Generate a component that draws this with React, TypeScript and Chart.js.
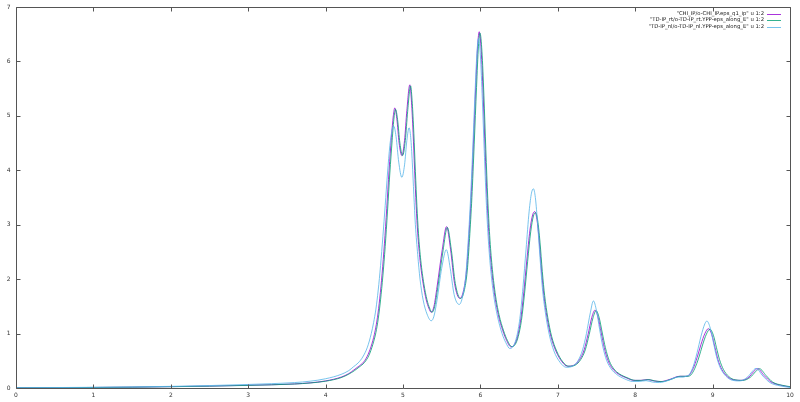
import React, { useEffect, useRef } from "react";
import { Chart, registerables } from "chart.js";

Chart.register(...registerables);

const X_TICKS = [0, 1, 2, 3, 4, 5, 6, 7, 8, 9, 10];
const Y_TICKS = [0, 1, 2, 3, 4, 5, 6, 7];

const LABELS = [
  '"CHI_IP/o-CHI_IP.eps_q1_ip" u 1:2',
  '"TD-IP_rt/o-TD-IP_rt.YPP-eps_along_E" u 1:2',
  '"TD-IP_nl/o-TD-IP_nl.YPP-eps_along_E" u 1:2',
];
const COLORS = ["#9400d3", "#009e73", "#56b4e9"];

const CHI: [number, number][] = [
  [0, 0.003], [0.5, 0.006], [1, 0.01], [1.5, 0.015], [2, 0.025], [2.5, 0.035], [3, 0.05], [3.3, 0.06],
  [3.6, 0.075], [3.8, 0.095], [4.0, 0.13], [4.2, 0.2], [4.3, 0.265], [4.364, 0.33], [4.42, 0.39],
  [4.493, 0.48], [4.55, 0.62], [4.6, 0.82], [4.64, 1.05], [4.67, 1.3], [4.7, 1.65], [4.73, 2.1],
  [4.76, 2.65], [4.79, 3.3], [4.82, 4.0], [4.85, 4.6], [4.875, 5.0], [4.894, 5.145], [4.92, 4.95],
  [4.95, 4.5], [4.985, 4.27], [5.02, 4.55], [5.05, 5.1], [5.088, 5.57], [5.11, 5.25], [5.13, 4.7],
  [5.15, 4.0], [5.17, 3.35], [5.19, 2.85], [5.22, 2.35], [5.26, 1.92], [5.3, 1.62], [5.333, 1.47],
  [5.365, 1.39], [5.4, 1.5], [5.44, 1.86], [5.507, 2.54], [5.563, 2.965], [5.615, 2.54], [5.666, 1.92],
  [5.735, 1.645], [5.78, 1.78], [5.82, 2.15], [5.85, 2.75], [5.88, 3.5], [5.91, 4.5], [5.94, 5.55],
  [5.965, 6.3], [5.985, 6.545], [6.01, 6.2], [6.035, 5.4], [6.06, 4.4], [6.085, 3.5], [6.11, 2.8],
  [6.14, 2.25], [6.18, 1.75], [6.23, 1.35], [6.29, 1.05], [6.34, 0.87], [6.395, 0.755], [6.44, 0.8],
  [6.48, 0.95], [6.52, 1.25], [6.56, 1.75], [6.6, 2.35], [6.64, 2.9], [6.675, 3.18], [6.703, 3.24],
  [6.73, 3.1], [6.76, 2.7], [6.79, 2.15], [6.82, 1.7], [6.86, 1.3], [6.91, 0.95], [6.975, 0.68],
  [7.055, 0.48], [7.127, 0.4], [7.21, 0.42], [7.28, 0.52], [7.34, 0.7], [7.39, 0.98], [7.44, 1.3],
  [7.48, 1.43], [7.52, 1.3], [7.56, 1.02], [7.6, 0.74], [7.65, 0.5], [7.71, 0.35], [7.78, 0.26],
  [7.88, 0.19], [7.985, 0.14], [8.07, 0.14], [8.16, 0.155], [8.24, 0.13], [8.33, 0.118], [8.45, 0.16],
  [8.57, 0.215], [8.65, 0.215], [8.7, 0.24], [8.75, 0.36], [8.8, 0.56], [8.85, 0.8], [8.9, 1.0],
  [8.945, 1.09], [8.99, 0.98], [9.03, 0.75], [9.07, 0.52], [9.12, 0.34], [9.19, 0.21], [9.27, 0.15],
  [9.366, 0.14], [9.47, 0.2], [9.53, 0.3], [9.58, 0.357], [9.665, 0.23], [9.755, 0.11], [9.88, 0.05],
  [10.0, 0.02],
];

const RT: [number, number][] = [
  [0, 0.003], [0.5, 0.006], [1, 0.01], [1.5, 0.015], [2, 0.024], [2.5, 0.034], [3, 0.048], [3.3, 0.058],
  [3.6, 0.073], [3.8, 0.092], [4.0, 0.125], [4.2, 0.19], [4.3, 0.255], [4.374, 0.32], [4.43, 0.38],
  [4.503, 0.47], [4.56, 0.6], [4.61, 0.8], [4.65, 1.02], [4.68, 1.27], [4.71, 1.62], [4.74, 2.06],
  [4.77, 2.6], [4.8, 3.25], [4.83, 3.95], [4.86, 4.55], [4.885, 4.98], [4.904, 5.12], [4.93, 4.93],
  [4.96, 4.5], [4.995, 4.27], [5.03, 4.55], [5.06, 5.08], [5.098, 5.55], [5.12, 5.23], [5.14, 4.68],
  [5.16, 3.98], [5.18, 3.34], [5.2, 2.84], [5.23, 2.34], [5.27, 1.91], [5.31, 1.62], [5.343, 1.47],
  [5.375, 1.39], [5.41, 1.5], [5.45, 1.85], [5.517, 2.52], [5.573, 2.95], [5.625, 2.53], [5.676, 1.92],
  [5.745, 1.645], [5.79, 1.78], [5.83, 2.15], [5.86, 2.75], [5.89, 3.5], [5.92, 4.48], [5.95, 5.52],
  [5.975, 6.28], [5.995, 6.52], [6.02, 6.18], [6.045, 5.38], [6.07, 4.38], [6.095, 3.48], [6.12, 2.8],
  [6.15, 2.25], [6.19, 1.75], [6.24, 1.35], [6.3, 1.05], [6.35, 0.87], [6.405, 0.76], [6.45, 0.8],
  [6.49, 0.95], [6.53, 1.24], [6.57, 1.73], [6.61, 2.32], [6.65, 2.87], [6.685, 3.16], [6.713, 3.22],
  [6.74, 3.08], [6.77, 2.68], [6.8, 2.14], [6.83, 1.7], [6.87, 1.3], [6.92, 0.95], [6.985, 0.68],
  [7.065, 0.48], [7.14, 0.4], [7.225, 0.42], [7.295, 0.52], [7.355, 0.7], [7.405, 0.98], [7.455, 1.29],
  [7.495, 1.42], [7.535, 1.29], [7.575, 1.01], [7.615, 0.74], [7.665, 0.5], [7.725, 0.35], [7.795, 0.26],
  [7.895, 0.19], [8.0, 0.14], [8.085, 0.14], [8.175, 0.155], [8.255, 0.13], [8.345, 0.118], [8.465, 0.16],
  [8.585, 0.215], [8.67, 0.215], [8.72, 0.24], [8.77, 0.36], [8.82, 0.55], [8.87, 0.79], [8.92, 0.99],
  [8.965, 1.08], [9.01, 0.97], [9.05, 0.74], [9.09, 0.52], [9.14, 0.34], [9.21, 0.21], [9.29, 0.15],
  [9.39, 0.14], [9.49, 0.2], [9.555, 0.3], [9.605, 0.355], [9.69, 0.23], [9.775, 0.11], [9.9, 0.05],
  [10.0, 0.025],
];

const NL: [number, number][] = [
  [0, 0.004], [0.5, 0.008], [1, 0.013], [1.5, 0.02], [2, 0.03], [2.5, 0.045], [3, 0.065], [3.3, 0.08],
  [3.6, 0.1], [3.8, 0.125], [4.0, 0.17], [4.2, 0.25], [4.3, 0.32], [4.36, 0.39], [4.42, 0.46],
  [4.48, 0.57], [4.54, 0.75], [4.59, 1.0], [4.62, 1.2], [4.65, 1.45], [4.68, 1.8], [4.71, 2.25],
  [4.74, 2.78], [4.77, 3.35], [4.8, 3.95], [4.83, 4.45], [4.86, 4.75], [4.881, 4.81], [4.91, 4.62],
  [4.945, 4.15], [4.985, 3.87], [5.02, 4.1], [5.05, 4.55], [5.078, 4.78], [5.1, 4.6], [5.12, 4.15],
  [5.14, 3.55], [5.16, 3.0], [5.19, 2.45], [5.22, 2.0], [5.26, 1.62], [5.31, 1.36], [5.365, 1.235],
  [5.4, 1.32], [5.44, 1.62], [5.5, 2.2], [5.56, 2.54], [5.61, 2.2], [5.66, 1.72], [5.727, 1.535],
  [5.77, 1.68], [5.81, 2.05], [5.84, 2.65], [5.87, 3.4], [5.9, 4.35], [5.93, 5.4], [5.955, 6.15],
  [5.975, 6.42], [6.0, 6.1], [6.025, 5.3], [6.05, 4.35], [6.075, 3.45], [6.1, 2.78], [6.13, 2.22],
  [6.17, 1.72], [6.22, 1.32], [6.28, 1.0], [6.33, 0.83], [6.38, 0.725], [6.43, 0.78], [6.47, 0.95],
  [6.51, 1.28], [6.55, 1.85], [6.59, 2.55], [6.63, 3.25], [6.66, 3.58], [6.685, 3.66], [6.71, 3.5],
  [6.74, 3.0], [6.77, 2.4], [6.8, 1.85], [6.84, 1.38], [6.89, 0.98], [6.95, 0.68], [7.03, 0.47],
  [7.11, 0.38], [7.19, 0.4], [7.26, 0.5], [7.32, 0.7], [7.37, 1.0], [7.42, 1.38], [7.46, 1.6],
  [7.5, 1.42], [7.54, 1.08], [7.58, 0.77], [7.63, 0.51], [7.69, 0.35], [7.76, 0.25], [7.86, 0.17],
  [7.97, 0.12], [8.05, 0.12], [8.14, 0.135], [8.22, 0.11], [8.31, 0.1], [8.43, 0.14], [8.55, 0.2],
  [8.62, 0.2], [8.66, 0.22], [8.7, 0.25], [8.75, 0.4], [8.8, 0.65], [8.85, 0.95], [8.9, 1.18],
  [8.926, 1.23], [8.97, 1.1], [9.01, 0.84], [9.05, 0.58], [9.1, 0.37], [9.17, 0.22], [9.26, 0.14],
  [9.35, 0.13], [9.45, 0.2], [9.51, 0.3], [9.56, 0.36], [9.65, 0.22], [9.74, 0.1], [9.87, 0.04],
  [10.0, 0.01],
];

const SERIES = [CHI, RT, NL];

const FONT = '"DejaVu Sans", "Liberation Sans", sans-serif';

const framePlugin = {
  id: "gnuplotFrame",
  afterDraw(chart: any) {
    const ctx = chart.ctx;
    const { left, right, top, bottom } = chart.chartArea;
    const xs = chart.scales.x;
    const ys = chart.scales.y;
    ctx.save();
    ctx.strokeStyle = "#555";
    ctx.lineWidth = 1;
    const L = Math.round(left) + 0.5;
    const R = Math.round(right) + 0.5;
    const T = Math.round(top) + 0.5;
    const B = Math.round(bottom) + 0.5;
    ctx.beginPath();
    ctx.rect(L, T, R - L, B - T);
    ctx.stroke();
    const tl = 4;
    ctx.beginPath();
    X_TICKS.forEach((v) => {
      const px = Math.round(xs.getPixelForValue(v)) + 0.5;
      ctx.moveTo(px, B);
      ctx.lineTo(px, B - tl);
      ctx.moveTo(px, T);
      ctx.lineTo(px, T + tl);
    });
    Y_TICKS.forEach((v) => {
      const py = Math.round(ys.getPixelForValue(v)) + 0.5;
      ctx.moveTo(L, py);
      ctx.lineTo(L + tl, py);
      ctx.moveTo(R, py);
      ctx.lineTo(R - tl, py);
    });
    ctx.stroke();

    ctx.fillStyle = "#333";
    ctx.font = `6px ${FONT}`;
    ctx.textAlign = "center";
    ctx.textBaseline = "middle";
    X_TICKS.forEach((v) => {
      ctx.fillText(String(v), xs.getPixelForValue(v), B + 7);
    });
    ctx.textAlign = "right";
    Y_TICKS.forEach((v) => {
      ctx.fillText(String(v), L - 6, ys.getPixelForValue(v));
    });

    ctx.font = `5.3px ${FONT}`;
    ctx.textAlign = "right";
    const rowY = [13.5, 20, 26.5];
    LABELS.forEach((lab, i) => {
      ctx.fillStyle = "#222";
      ctx.fillText(lab, 764, rowY[i]);
      ctx.strokeStyle = COLORS[i];
      ctx.lineWidth = 0.8;
      ctx.beginPath();
      ctx.moveTo(767, Math.round(rowY[i]) + 0.5);
      ctx.lineTo(781, Math.round(rowY[i]) + 0.5);
      ctx.stroke();
    });
    ctx.restore();
  },
};

export default function App() {
  const ref = useRef<HTMLCanvasElement | null>(null);
  useEffect(() => {
    document.body.style.margin = "0";
    const canvas = ref.current;
    if (!canvas) return;
    const chart = new Chart(canvas, {
      type: "scatter",
      data: {
        datasets: SERIES.map((s, i) => ({
          label: LABELS[i],
          data: s.map(([x, y]) => ({ x, y })),
          showLine: true,
          borderColor: COLORS[i],
          backgroundColor: COLORS[i],
          borderWidth: 0.8,
          pointRadius: 0,
          cubicInterpolationMode: "monotone" as const,
          order: 3 - i,
        })),
      },
      options: {
        responsive: false,
        animation: false,
        events: [],
        layout: { padding: { left: 16, right: 10, top: 7, bottom: 14 } },
        plugins: { legend: { display: false }, tooltip: { enabled: false } },
        scales: {
          x: {
            type: "linear",
            min: 0,
            max: 10,
            ticks: { display: false },
            grid: { display: false, drawTicks: false },
            border: { display: false },
          },
          y: {
            type: "linear",
            min: 0,
            max: 7,
            ticks: { display: false },
            grid: { display: false, drawTicks: false },
            border: { display: false },
          },
        },
      },
      plugins: [framePlugin],
    });
    return () => chart.destroy();
  }, []);
  return (
    <div style={{ width: 800, height: 402, background: "#fff" }}>
      <canvas ref={ref} width={800} height={402} style={{ display: "block" }} />
    </div>
  );
}
